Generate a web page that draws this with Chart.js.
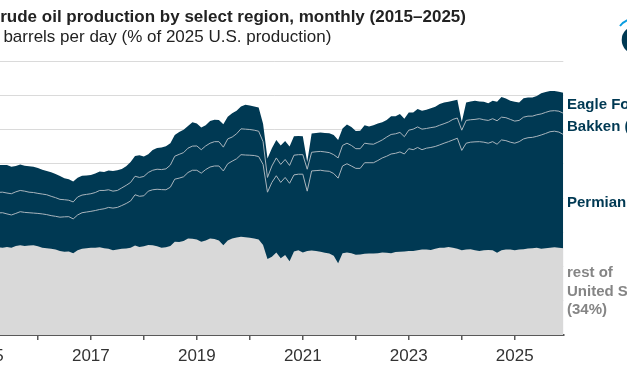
<!DOCTYPE html>
<html><head><meta charset="utf-8">
<script src="https://cdn.jsdelivr.net/npm/chart.js@4.4.1/dist/chart.umd.min.js"></script>
<style>
html,body{margin:0;padding:0;width:627px;height:376px;overflow:hidden;background:#fff;position:relative}
#wrap{position:absolute;left:-40px;top:0;width:667px;height:376px}
.t{position:absolute;white-space:nowrap;font-family:'Liberation Sans',Arial,sans-serif;color:#222;font-size:17px;line-height:20px}
#title{left:-47px;top:7px;font-weight:bold}
#sub{left:-49.5px;top:27px}
</style></head><body>
<div id="wrap"><canvas id="c" width="667" height="376"></canvas></div>
<div class="t" id="title">U.S. crude oil production by select region, monthly (2015–2025)</div>
<div class="t" id="sub">million barrels per day (% of 2025 U.S. production)</div>
<script>
// ---- categories: monthly, Jan 2015 .. Dec 2025 ----
const firstYear = 2015, lastYear = 2025;
const months = [];
for (let y = firstYear; y <= lastYear; y++) for (let m = 1; m <= 12; m++) months.push(y + '-' + String(m).padStart(2, '0'));

// x-axis tick labels (every other year labelled)
const yearTicks = [2015,2016,2017,2018,2019,2020,2021,2022,2023,2024,2025];
const tickLabels = ['2015','2017','2019','2021','2023','2025'];

// ---- series, million b/d, cumulative stack levels ----
// rest of United States (bottom layer)
const restOfUS = [
5.05,5.08,5.10,5.12,5.10,5.14,5.10,5.20,5.24,5.20,5.22,5.24,
5.18,5.10,5.07,5.03,4.99,4.91,4.86,4.88,4.78,4.95,5.03,5.07,
5.09,5.10,5.12,5.07,5.03,4.95,4.99,5.03,5.05,5.10,5.22,5.14,
5.18,5.26,5.24,5.18,5.10,5.12,5.20,5.45,5.43,5.49,5.64,5.62,
5.58,5.45,5.52,5.64,5.60,5.52,5.24,5.52,5.64,5.70,5.73,5.71,
5.68,5.64,5.58,5.26,4.44,4.57,4.82,4.48,4.67,4.30,4.88,4.95,
4.82,4.91,4.93,4.90,4.86,4.80,4.76,4.63,4.19,4.78,4.82,4.78,
4.69,4.70,4.74,4.76,4.76,4.78,4.82,4.80,4.78,4.84,4.86,4.88,
4.90,4.91,4.95,4.99,4.99,4.97,5.03,5.09,5.10,5.14,5.09,5.03,
4.95,4.99,5.01,4.95,4.91,4.95,4.97,4.95,4.80,4.95,4.99,4.99,
4.95,4.99,5.01,5.05,5.07,5.10,5.03,5.07,5.09,5.12,5.10,5.07];
// rest + Permian
const permianTop = [
7.00,7.05,7.10,7.13,7.14,7.07,7.01,7.10,7.20,7.16,7.14,7.12,
7.10,7.07,7.03,6.97,6.93,6.88,6.90,6.91,6.78,7.01,7.14,7.18,
7.22,7.27,7.33,7.37,7.45,7.41,7.45,7.56,7.68,7.83,8.19,8.10,
8.13,8.40,8.48,8.51,8.49,8.48,8.63,9.10,9.16,9.24,9.49,9.62,
9.62,9.45,9.66,9.81,9.87,9.87,9.58,10.00,10.15,10.29,10.53,10.51,
10.50,10.48,10.42,9.96,8.34,8.91,9.30,8.91,9.20,8.86,9.35,9.39,
9.39,8.40,9.58,9.60,9.62,9.58,9.56,9.43,9.16,9.87,10.00,9.87,
9.73,9.73,10.06,10.06,10.06,10.19,10.34,10.44,10.57,10.61,10.69,10.57,
10.88,10.82,10.95,10.82,10.91,10.95,11.01,11.10,11.20,11.29,11.39,11.49,
10.78,11.20,11.26,11.28,11.29,11.26,11.20,11.29,11.14,11.39,11.35,11.26,
11.20,11.29,11.45,11.52,11.54,11.60,11.68,11.77,11.87,11.90,11.85,11.71];
// rest + Permian + Bakken
const bakkenTop = [
8.20,8.25,8.30,8.33,8.34,8.29,8.25,8.36,8.44,8.40,8.34,8.32,
8.27,8.23,8.19,8.10,8.02,7.92,7.90,7.87,7.77,8.06,8.17,8.21,
8.25,8.32,8.44,8.44,8.48,8.40,8.44,8.59,8.74,8.91,9.27,9.20,
9.26,9.49,9.62,9.68,9.66,9.70,9.92,10.44,10.55,10.65,10.91,11.03,
11.04,10.82,11.04,11.20,11.29,11.29,10.97,11.45,11.56,11.75,12.04,12.02,
12.00,11.96,11.90,11.29,9.20,9.87,10.34,9.96,10.25,9.90,10.50,10.53,
10.53,9.68,10.67,10.70,10.72,10.69,10.65,10.53,10.34,11.07,11.20,11.07,
10.88,10.88,11.20,11.16,11.14,11.26,11.39,11.56,11.71,11.75,11.83,11.58,
11.96,12.02,12.15,12.02,12.06,12.11,12.15,12.25,12.34,12.44,12.59,12.67,
11.96,12.53,12.57,12.59,12.63,12.57,12.53,12.63,12.51,12.72,12.69,12.59,
12.49,12.53,12.72,12.78,12.78,12.86,12.91,13.00,13.08,13.10,13.07,12.95];
// rest + Permian + Bakken + Eagle Ford (total)
const eagleFordTop = [
9.75,9.82,9.88,9.92,9.92,9.92,9.83,9.87,9.95,9.88,9.85,9.82,
9.75,9.65,9.58,9.50,9.40,9.28,9.15,9.10,8.97,9.18,9.30,9.32,
9.35,9.43,9.55,9.52,9.60,9.58,9.62,9.70,9.85,10.10,10.45,10.50,
10.42,10.55,10.80,10.92,10.95,11.02,11.20,11.68,11.85,11.98,12.20,12.42,
12.35,12.12,12.25,12.50,12.57,12.55,12.30,12.75,12.95,13.10,13.35,13.45,
13.40,13.35,13.28,12.34,10.30,10.90,11.39,11.07,11.33,11.01,11.60,11.62,
11.60,10.10,11.77,11.80,11.83,11.80,11.78,11.68,11.39,12.06,12.29,12.15,
11.91,11.92,12.25,12.18,12.25,12.35,12.42,12.55,12.78,12.78,12.91,12.63,
13.00,13.00,13.20,13.10,13.16,13.24,13.33,13.49,13.58,13.62,13.68,13.73,
12.44,13.58,13.64,13.68,13.64,13.62,13.54,13.68,13.62,13.90,13.81,13.68,
13.62,13.58,13.83,13.87,13.87,13.96,14.11,14.19,14.25,14.25,14.21,14.15];

const seriesLabels = ['Eagle Ford (8%)', 'Bakken (9%)', 'Permian (49%)'];
const restLabelLines = ['rest of', 'United States', '(34%)'];

// ---- build the table the library needs ----
const monthToX = s => { const [y, m] = s.split('-').map(Number); return y + (m - 1) / 12; };
const xs = months.map(monthToX);
const pts = arr => arr.map((v, i) => ({ x: xs[i], y: v }));

const FONT = "'Liberation Sans', Arial, sans-serif";
const NAVY = '#003953';

const labelPlugin = {
  id: 'seriesLabels',
  afterDraw(chart) {
    const ctx = chart.ctx;
    const x = chart.chartArea.right + 3.7;
    ctx.save();
    ctx.textAlign = 'left';
    ctx.textBaseline = 'alphabetic';
    ctx.font = 'bold 15px ' + FONT;
    ctx.fillStyle = NAVY;
    ctx.fillText(seriesLabels[0], x, 108.5);
    ctx.fillText(seriesLabels[1], x, 130.5);
    ctx.fillText(seriesLabels[2], x, 206.5);
    ctx.fillStyle = '#858585';
    restLabelLines.forEach((t, k) => ctx.fillText(t, x, 277 + k * 18.5));
    // logo fragment (top right)
    ctx.fillStyle = NAVY;
    ctx.beginPath(); ctx.arc(675.7, 40, 14, 0, Math.PI * 2); ctx.fill();
    ctx.strokeStyle = '#0a9de0'; ctx.lineWidth = 2;
    ctx.beginPath(); ctx.moveTo(660, 26); ctx.quadraticCurveTo(663, 22, 668, 20); ctx.stroke();
    ctx.restore();
  }
};

new Chart(document.getElementById('c'), {
  type: 'line',
  data: {
    datasets: [
      { label: 'rest of United States', data: pts(restOfUS), fill: 'origin', backgroundColor: '#d9d9d9', borderColor: 'rgba(0,0,0,0)', borderWidth: 0 },
      { label: 'Permian', data: pts(permianTop), fill: false, borderColor: '#a9b5bd', borderWidth: 1 },
      { label: 'Bakken', data: pts(bakkenTop), fill: false, borderColor: '#a9b5bd', borderWidth: 1 },
      { label: 'Eagle Ford', data: pts(eagleFordTop), fill: 'origin', backgroundColor: NAVY, borderColor: 'rgba(0,0,0,0)', borderWidth: 0 }
    ]
  },
  options: {
    responsive: false, animation: false, devicePixelRatio: 1,
    layout: { padding: { left: 22, right: 63.7, top: 61, bottom: 3.6 } },
    elements: { line: { tension: 0 }, point: { radius: 0 } },
    plugins: { legend: { display: false }, tooltip: { enabled: false }, title: { display: false } },
    scales: {
      x: {
        type: 'linear', min: xs[0], max: xs[xs.length - 1],
        afterBuildTicks: s => { s.ticks = yearTicks.map(v => ({ value: v })); },
        ticks: { autoSkip: false, maxRotation: 0, padding: 6, color: '#333', font: { family: FONT, size: 17 },
          callback: v => tickLabels.includes(String(v)) ? String(v) : '' },
        grid: { drawOnChartArea: false, drawTicks: true, tickLength: 5, color: '#595959', lineWidth: 1.5 },
        border: { display: true, color: '#595959', width: 2 }
      },
      y: {
        min: 0, max: 16,
        ticks: { display: false, stepSize: 2 },
        grid: { color: '#dadada', lineWidth: 1, drawTicks: false },
        border: { display: false }
      }
    }
  },
  plugins: [labelPlugin]
});
</script>
</body></html>
